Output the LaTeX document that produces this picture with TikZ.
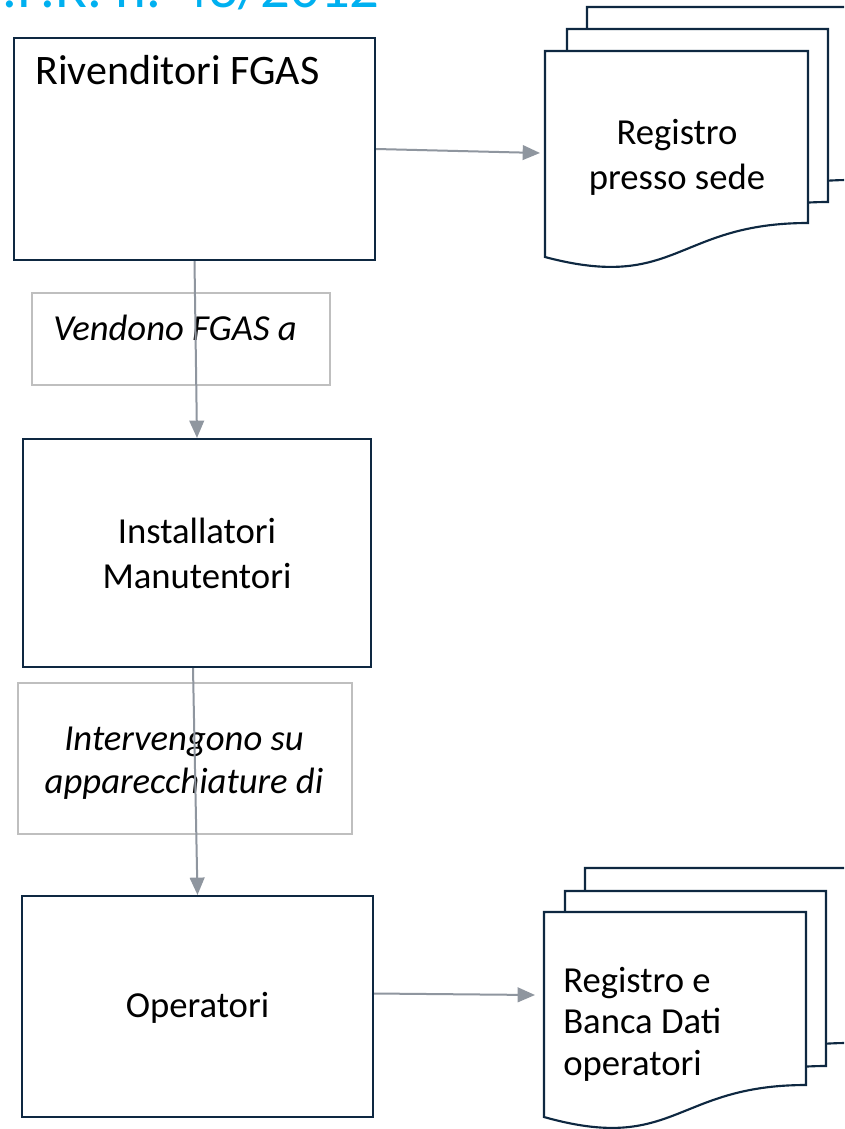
\documentclass[tikz,border=0pt]{standalone}
\usepackage{fontspec}
\setmainfont{Carlito}
\usetikzlibrary{arrows.meta,calc}
\definecolor{navy}{HTML}{0E2841}
\definecolor{arrowgray}{HTML}{8F969F}
\definecolor{lblgray}{HTML}{BFBFBF}
\definecolor{titlecyan}{HTML}{00B0F0}
\newcommand{\docshape}[6]{%
  \path[docline] (#1,#2) -- (#3,#2) -- (#3,#4)
    .. controls ({(#1+#3)/2},#4) and ({(#1+#3)/2},#6) .. (#1,#5) -- cycle;}
\begin{document}
\begin{tikzpicture}[x=0.75pt,y=-0.75pt,
  box/.style={draw=navy, line width=1.6pt, fill=white, inner sep=0pt},
  lblbox/.style={draw=lblgray, line width=1.1pt, inner sep=0pt},
  body/.style={font=\fontsize{27.5pt}{33.75pt}\selectfont, align=center, inner sep=0pt},
  docbody/.style={font=\fontsize{27.5pt}{33.75pt}\selectfont, inner sep=0pt},
  itbody/.style={font=\fontsize{27.5pt}{32pt}\selectfont\itshape, align=center, inner sep=0pt},
  flow/.style={draw=arrowgray, line width=1.5pt, -{Triangle[length=13pt,width=11pt]}},
  docline/.style={draw=navy, line width=1.6pt, fill=white, line join=miter}
]
\clip (0,0) rectangle (844,1129);
\fill[white] (0,0) rectangle (844,1129);

% title (cut off at top)
\node[anchor=base east, text=titlecyan, font=\fontsize{44pt}{50pt}\selectfont, inner sep=0pt]
  (title) at (380,7) {D.P.R. n. 43/2012};

% main boxes
\node[box, minimum width=270.75pt, minimum height=166.5pt] (riv) at (194.5,149) {};
\node[inner sep=0pt, font=\fontsize{31.5pt}{36pt}\selectfont, anchor=base west] (rivtxt) at (35,84) {Rivenditori FGAS};

\node[box, minimum width=261pt, minimum height=171pt] (inst) at (197,553) {};
\node[body] (insttxt) at (197,553) {Installatori\\Manutentori};

\node[box, minimum width=263.25pt, minimum height=165.75pt] (op) at (197.5,1006.5) {};
\node[body] (optxt) at (197.5,1008) {Operatori};

% label boxes
\node[lblbox, minimum width=223.5pt, minimum height=69pt] (l1) at (181,339) {};
\node[itbody, anchor=base west] (l1txt) at (53,340) {Vendono FGAS a};

\node[lblbox, minimum width=250.5pt, minimum height=113.25pt] (l2) at (185,758.5) {};
\node[itbody] (l2txt) at (184,763) {Intervengono su\\apparecchiature di};

% multi-documents (top)
\docshape{587}{7}{850}{180}{214}{249}
\docshape{567}{29}{828}{202}{236}{271}
\docshape{545}{51}{808}{223}{257}{292}
\node[docbody, align=center] (reg1) at (677,157) {Registro\\presso sede};

% multi-documents (bottom)
\docshape{585}{868}{848}{1043}{1077}{1112}
\docshape{565}{891}{826}{1066}{1100}{1135}
\docshape{544}{912}{806}{1085}{1117}{1154}
\node[docbody, align=left, anchor=west, font=\fontsize{27.5pt}{31pt}\selectfont] (reg2) at (563,1024) {Registro e\\Banca Dati\\operatori};

% connectors
\coordinate (reg1in) at (540,153);
\coordinate (reg2in) at (535,995);
\draw[flow] (riv.east) -- (reg1in);
\draw[flow] (riv.south) -- (inst.north);
\draw[flow] ($(inst.south)+(-4,0)$) -- (op.north);
\draw[flow] ($(op.east)+(0,-13)$) -- (reg2in);
\end{tikzpicture}
\end{document}
